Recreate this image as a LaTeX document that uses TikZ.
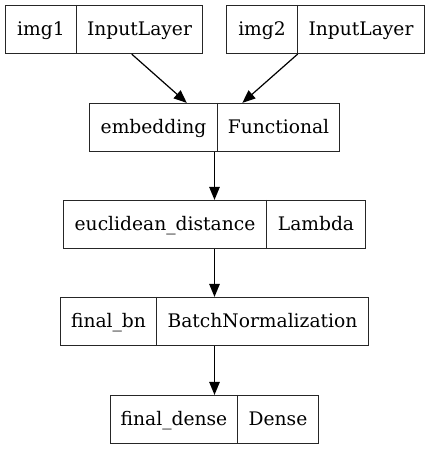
\documentclass[tikz,border=0pt]{standalone}
\usepackage{fontspec}
\setmainfont{DejaVu Serif}
\usetikzlibrary{arrows.meta}
\begin{document}
\begin{tikzpicture}[x=1pt,y=-1pt,
  rec/.style={draw=black!85,line width=1.2pt,minimum height=48pt,inner sep=0pt,rectangle},
  lbl/.style={anchor=base,inner sep=0pt,font=\fontsize{18.67}{22}\selectfont},
  edge/.style={line width=1.2pt,-{Triangle[length=13pt,width=10.5pt]}},
  divl/.style={draw=black!85,line width=1.2pt}]
\useasboundingbox (0,0) rectangle (429,449);
% records
\node[rec,minimum width=197pt] (r1) at (104,29.5) {};
\node[rec,minimum width=198pt] (r2) at (325.5,29.5) {};
\node[rec,minimum width=250pt] (r3) at (214.5,127.5) {};
\node[rec,minimum width=302pt] (r4) at (214.5,224.5) {};
\node[rec,minimum width=308pt] (r5) at (214.5,321.5) {};
\node[rec,minimum width=208pt] (r6) at (214.5,419.5) {};
% dividers
\draw[divl] (r1.north -| 76.5,0) -- (r1.south -| 76.5,0);
\draw[divl] (r2.north -| 297.5,0) -- (r2.south -| 297.5,0);
\draw[divl] (r3.north -| 217.5,0) -- (r3.south -| 217.5,0);
\draw[divl] (r4.north -| 266.5,0) -- (r4.south -| 266.5,0);
\draw[divl] (r5.north -| 156.5,0) -- (r5.south -| 156.5,0);
\draw[divl] (r6.north -| 237.5,0) -- (r6.south -| 237.5,0);
% labels
\node[lbl] (t1a) at (41,35.8) {img1};
\node[lbl] (t1b) at (139.5,35.8) {InputLayer};
\node[lbl] (t2a) at (262,35.8) {img2};
\node[lbl] (t2b) at (361,35.8) {InputLayer};
\node[lbl] (t3a) at (153.5,133.8) {embedding};
\node[lbl] (t3b) at (278.5,133.8) {Functional};
\node[lbl] (t4a) at (165,230.8) {euclidean\_distance};
\node[lbl] (t4b) at (316,230.8) {Lambda};
\node[lbl] (t5a) at (108.5,327.8) {final\_bn};
\node[lbl] (t5b) at (262.5,327.8) {BatchNormalization};
\node[lbl] (t6a) at (174,425.8) {final\_dense};
\node[lbl] (t6b) at (278,425.8) {Dense};
% edges
\draw[edge] (r1) -- (r3);
\draw[edge] (r2) -- (r3);
\draw[edge] (r3) -- (r4);
\draw[edge] (r4) -- (r5);
\draw[edge] (r5) -- (r6);
\end{tikzpicture}
\end{document}
